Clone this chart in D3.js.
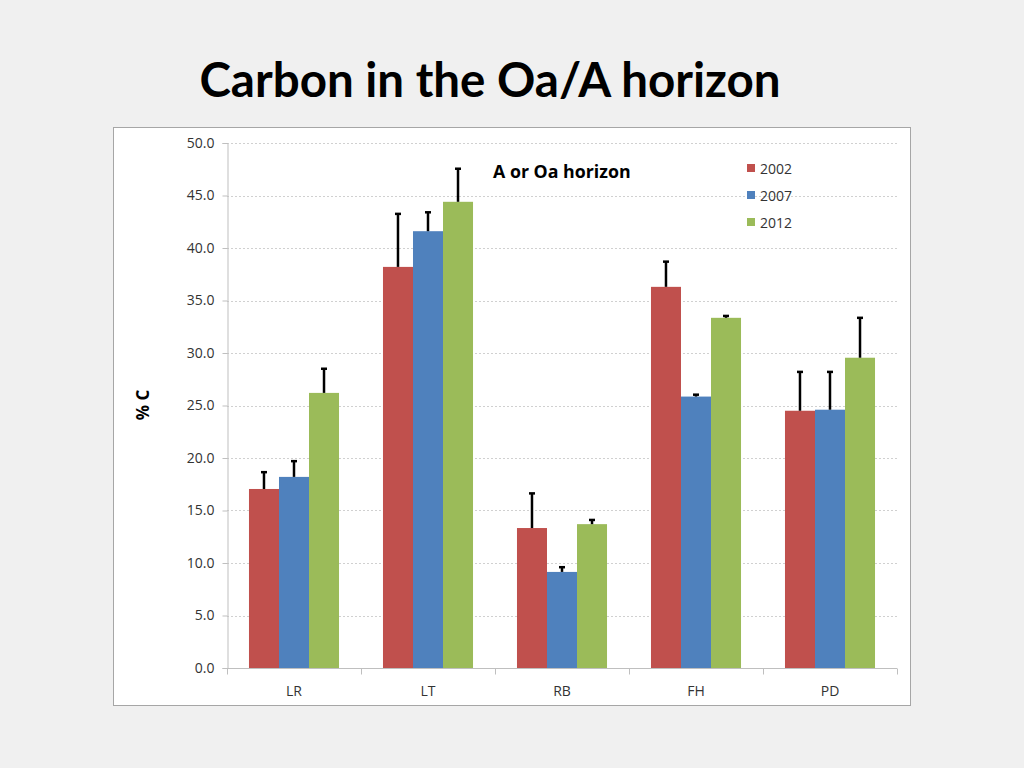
<!DOCTYPE html>
<html><head><meta charset="utf-8">
<script src="https://cdn.jsdelivr.net/npm/d3@7"></script>
<style>
html,body{margin:0;padding:0;background:#f0f0f0;}
svg{display:block;}
</style></head>
<body>
<svg id="c" width="1024" height="768"></svg>
<script>
const categories = ["LR","LT","RB","FH","PD"];
const seriesNames = ["2002","2007","2012"];
const colors = ["#C0504D","#4F81BD","#9BBB59"];
const values2002 = [17.05, 38.2, 13.33, 36.3, 24.5];
const values2007 = [18.2, 41.6, 9.15, 25.85, 24.6];
const values2012 = [26.2, 44.4, 13.7, 33.35, 29.55];
const err2002 = [1.6, 5.05, 3.3, 2.4, 3.7];
const err2007 = [1.5, 1.8, 0.45, 0.18, 3.6];
const err2012 = [2.3, 3.15, 0.4, 0.18, 3.8];
const yTicks = [0,5,10,15,20,25,30,35,40,45,50];

const values = [values2002, values2007, values2012];
const errs = [err2002, err2007, err2012];

const svg = d3.select("#c");
const font = "'Open Sans', 'DejaVu Sans', sans-serif";

svg.append("rect").attr("x",0).attr("y",0).attr("width",1024).attr("height",768).attr("fill","#f0f0f0");

svg.append("text").attr("x",490).attr("y",97).attr("text-anchor","middle")
  .attr("font-family","Lato, 'Open Sans', sans-serif").attr("font-weight","bold")
  .attr("font-size",47.5).attr("fill","#000").text("Carbon in the Oa/A horizon");

svg.append("rect").attr("x",113.5).attr("y",127.5).attr("width",797).attr("height",578)
  .attr("fill","#fff").attr("stroke","#a6a6a6").attr("stroke-width",1);

const L=227, R=897, T=143, B=668;
const y = d3.scaleLinear().domain([0,50]).range([B,T]);
const x0 = d3.scaleBand().domain(categories).range([L,R]).paddingInner(0.328).paddingOuter(0.164);
const x1 = d3.scaleBand().domain(seriesNames).range([0,x0.bandwidth()]);

const g = svg.append("g");
g.selectAll(".grid").data(yTicks.filter(d=>d>0)).join("line")
  .attr("x1",L).attr("x2",R).attr("y1",d=>Math.round(y(d))+0.5).attr("y2",d=>Math.round(y(d))+0.5)
  .attr("stroke","#d0d0d0").attr("stroke-dasharray","2,2").attr("stroke-width",1);

const yAxis = d3.axisLeft(y).tickValues(yTicks).tickFormat(d3.format(".1f")).tickSize(5).tickPadding(8);
const ya = svg.append("g").attr("transform",`translate(${L+0.5},0)`).call(yAxis);
ya.select(".domain").attr("stroke","#bfbfbf");
ya.selectAll(".tick line").attr("stroke","#bfbfbf");
ya.selectAll("text").attr("font-family",font).attr("font-size",14).attr("fill","#333");

const xa = svg.append("g").attr("transform",`translate(0,${B+0.5})`);
xa.append("line").attr("x1",L).attr("x2",R).attr("stroke","#bfbfbf");
const step = x0.step();
const bounds = d3.range(categories.length+1).map(i=>L+i*step);
xa.selectAll(".xt").data(bounds).join("line").attr("x1",d=>Math.round(d)+0.5).attr("x2",d=>Math.round(d)+0.5)
  .attr("y1",0).attr("y2",6).attr("stroke","#bfbfbf");
xa.selectAll(".xl").data(categories).join("text")
  .attr("x",d=>x0(d)+x0.bandwidth()/2).attr("y",27).attr("text-anchor","middle")
  .attr("font-family",font).attr("font-size",14).attr("fill","#333").text(d=>d);

seriesNames.forEach((s,si)=>{
  const gg = svg.append("g");
  gg.selectAll("rect").data(categories).join("rect")
    .attr("x",d=>x0(d)+x1(s)).attr("width",x1.bandwidth())
    .attr("y",(d,i)=>y(values[si][i])).attr("height",(d,i)=>B-y(values[si][i]))
    .attr("fill",colors[si]);
  gg.selectAll(".e").data(categories).join("line")
    .attr("x1",d=>x0(d)+x1(s)+x1.bandwidth()/2).attr("x2",d=>x0(d)+x1(s)+x1.bandwidth()/2)
    .attr("y1",(d,i)=>y(values[si][i])).attr("y2",(d,i)=>y(values[si][i]+errs[si][i]))
    .attr("stroke","#000").attr("stroke-width",2.5);
  gg.selectAll(".c").data(categories).join("line")
    .attr("x1",d=>x0(d)+x1(s)+x1.bandwidth()/2-3).attr("x2",d=>x0(d)+x1(s)+x1.bandwidth()/2+3)
    .attr("y1",(d,i)=>y(values[si][i]+errs[si][i])).attr("y2",(d,i)=>y(values[si][i]+errs[si][i]))
    .attr("stroke","#000").attr("stroke-width",2.5);
});

svg.append("text").attr("transform","translate(149,405) rotate(-90)").attr("text-anchor","middle")
  .attr("font-family",font).attr("font-weight","bold").attr("font-size",17).attr("fill","#000").text("% C");

svg.append("text").attr("x",493).attr("y",178).attr("font-family",font).attr("font-weight","bold")
  .attr("font-size",17.8).attr("fill","#000").text("A or Oa horizon");

const lg = svg.append("g").attr("transform","translate(747,164)");
seriesNames.forEach((s,i)=>{
  lg.append("rect").attr("x",0).attr("y",i*27).attr("width",8).attr("height",8).attr("fill",colors[i]);
  lg.append("text").attr("x",13).attr("y",i*27+9.5).attr("font-family",font).attr("font-size",14).attr("fill","#333").text(s);
});
</script>
</body></html>
